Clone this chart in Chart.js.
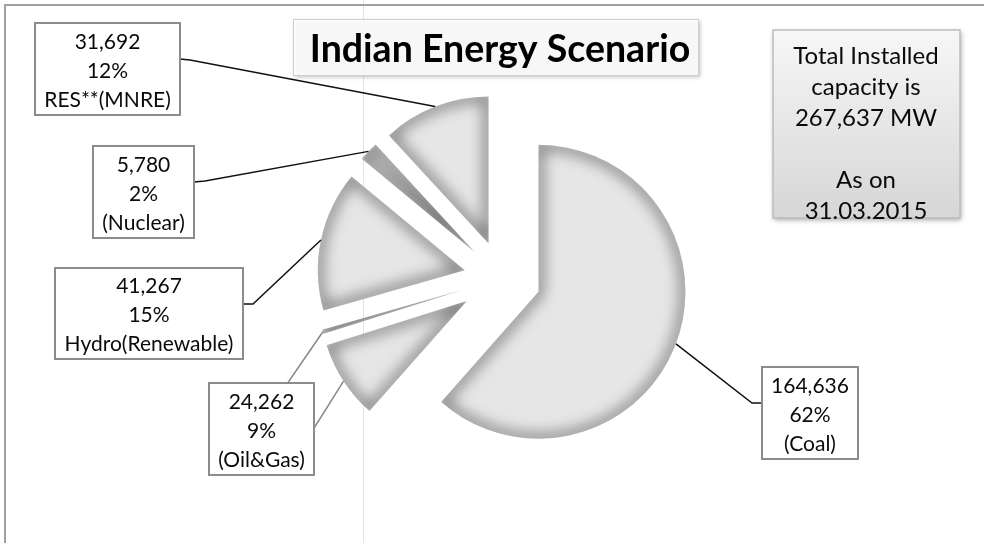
<!DOCTYPE html>
<html>
<head>
<meta charset="utf-8">
<title>Indian Energy Scenario</title>
<script src="https://cdn.jsdelivr.net/npm/chart.js@4"></script>
<style>
    html, body { margin: 0; padding: 0; background: #fff; }
</style>
</head>
<body>
<canvas id="energyChart" width="984" height="543"></canvas>
<script>
// Installed capacity in MW, as on 31.03.2015.
// The thin sliver next to Oil&Gas is the oil part; its box shows gas + oil together.
const sources = ['Coal', 'Gas', 'Oil', 'Hydro(Renewable)', 'Nuclear', 'RES**(MNRE)'];
const capacityMW = [164636, 23062, 1200, 41267, 5780, 31692];

// label boxes: which slices each one adds up and the name printed under it
const boxNames = ['(Coal)', '(Oil&Gas)', 'Hydro(Renewable)', '(Nuclear)', 'RES**(MNRE)'];
const boxSlices = [[0], [1, 2], [3], [4], [5]];

const chartTitle = 'Indian Energy Scenario';
const noteLines = ['Total Installed', 'capacity is', '267,637 MW', '', 'As on', '31.03.2015'];

// --- styling / layout (not data) ---
const explode = [39, 42, 40, 38, 37, 37];
const boxRects = [
    [762, 367, 96, 92],
    [209, 383, 105, 92],
    [55, 268, 188, 91],
    [93, 146, 101, 92],
    [35, 23, 145, 92]
];
// leader lines: slice they point at, start on the box, optional elbow, colour
const leaders = [
    { slice: 0, from: [762, 403], elbow: [752, 403], color: '#111' },
    { slice: 1, from: [311, 433], elbow: null, color: '#8a8a8a' },
    { slice: 2, from: [287, 384], elbow: null, color: '#8a8a8a' },
    { slice: 3, from: [243, 304], elbow: [253, 304], color: '#111' },
    { slice: 4, from: [194, 182], elbow: [205, 181], color: '#111' },
    { slice: 5, from: [180, 59], elbow: [190, 60], color: '#111' }
];

const total = capacityMW.reduce((a, b) => a + b, 0);

function slicePath(ctx, p) {
    ctx.beginPath();
    ctx.moveTo(p.x, p.y);
    ctx.arc(p.x, p.y, p.outerRadius, p.startAngle, p.endAngle);
    ctx.closePath();
}

function arcGeom(arc, i) {
    const p = arc.getProps(['x', 'y', 'startAngle', 'endAngle', 'outerRadius']);
    const mid = (p.startAngle + p.endAngle) / 2;
    return {
        p: p,
        mid: mid,
        dx: Math.cos(mid) * explode[i],
        dy: Math.sin(mid) * explode[i]
    };
}

// draws the slices pulled apart, with a soft dark inner edge
const explodedPie = {
    id: 'explodedPie',
    beforeDatasetDraw(chart, args) {
        const ctx = chart.ctx;
        args.meta.data.forEach((arc, i) => {
            const g = arcGeom(arc, i);
            ctx.save();
            ctx.translate(g.dx, g.dy);
            arc.draw(ctx);
            slicePath(ctx, g.p);
            ctx.clip();
            ctx.shadowColor = 'rgba(0,0,0,0.75)';
            ctx.shadowBlur = 15;
            ctx.shadowOffsetX = 3000;
            ctx.translate(-3000, 0);
            slicePath(ctx, g.p);
            ctx.lineWidth = 6;
            ctx.strokeStyle = '#000';
            ctx.stroke();
            ctx.restore();
        });
        return false;
    }
};

function drawLines(ctx, lines, cx, y0, step) {
    lines.forEach((t, k) => ctx.fillText(t, cx, y0 + k * step));
}

const decorations = {
    id: 'decorations',
    beforeDraw(chart) {
        const ctx = chart.ctx;
        ctx.save();
        ctx.fillStyle = '#fff';
        ctx.fillRect(0, 0, chart.width, chart.height);
        // faint vertical rule
        ctx.strokeStyle = '#e4e4e4';
        ctx.lineWidth = 1;
        ctx.beginPath();
        ctx.moveTo(363.5, 0);
        ctx.lineTo(363.5, chart.height);
        ctx.stroke();
        // frame
        ctx.strokeStyle = '#a0a0a0';
        ctx.lineWidth = 2;
        ctx.beginPath();
        ctx.moveTo(5, chart.height);
        ctx.lineTo(5, 5);
        ctx.lineTo(chart.width, 5);
        ctx.stroke();
        ctx.restore();
    },
    afterDraw(chart) {
        const ctx = chart.ctx;
        const arcs = chart.getDatasetMeta(0).data;
        ctx.save();

        // leader lines from the boxes to the middle of each slice's rim
        leaders.forEach(l => {
            const g = arcGeom(arcs[l.slice], l.slice);
            const tx = g.p.x + g.dx + Math.cos(g.mid) * g.p.outerRadius;
            const ty = g.p.y + g.dy + Math.sin(g.mid) * g.p.outerRadius;
            ctx.strokeStyle = l.color;
            ctx.lineWidth = 1.5;
            ctx.beginPath();
            ctx.moveTo(l.from[0], l.from[1]);
            if (l.elbow) ctx.lineTo(l.elbow[0], l.elbow[1]);
            ctx.lineTo(tx, ty);
            ctx.stroke();
        });

        // data label boxes
        ctx.font = '21px Lato';
        ctx.textAlign = 'center';
        ctx.textBaseline = 'middle';
        boxNames.forEach((name, b) => {
            const [x, y, w, h] = boxRects[b];
            const v = boxSlices[b].reduce((s, i) => s + capacityMW[i], 0);
            ctx.fillStyle = '#fff';
            ctx.fillRect(x, y, w, h);
            ctx.strokeStyle = '#8c8c8c';
            ctx.lineWidth = 2;
            ctx.strokeRect(x, y, w, h);
            ctx.fillStyle = '#0a0a0a';
            const lines = [v.toLocaleString('en-US'), Math.round(v / total * 100) + '%', name];
            drawLines(ctx, lines, x + w / 2, y + h / 2 - 27, 29);
        });

        // title box
        ctx.save();
        ctx.shadowColor = 'rgba(0,0,0,0.3)';
        ctx.shadowBlur = 4;
        ctx.shadowOffsetX = 2;
        ctx.shadowOffsetY = 2;
        ctx.fillStyle = 'rgba(255,255,255,0.88)';
        ctx.fillRect(293, 19, 405, 56);
        ctx.restore();
        ctx.strokeStyle = '#cfcfcf';
        ctx.lineWidth = 1;
        ctx.strokeRect(293.5, 19.5, 405, 56);
        ctx.fillStyle = '#000';
        ctx.font = 'bold 37.5px Lato';
        ctx.fillText(chartTitle, 500, 50);

        // note box with total capacity
        ctx.save();
        ctx.shadowColor = 'rgba(0,0,0,0.35)';
        ctx.shadowBlur = 5;
        ctx.shadowOffsetX = 1;
        ctx.shadowOffsetY = 2;
        const grad = ctx.createLinearGradient(0, 30, 0, 218);
        grad.addColorStop(0, '#f7f7f7');
        grad.addColorStop(1, '#d6d6d6');
        ctx.fillStyle = grad;
        ctx.fillRect(773, 30, 187, 188);
        ctx.restore();
        ctx.strokeStyle = '#bdbdbd';
        ctx.lineWidth = 1.5;
        ctx.strokeRect(773, 30, 187, 188);
        ctx.fillStyle = '#0a0a0a';
        ctx.font = '24px Lato';
        drawLines(ctx, noteLines, 866, 56, 31);

        ctx.restore();
    }
};

const ctx = document.getElementById('energyChart').getContext('2d');
new Chart(ctx, {
    type: 'pie',
    data: {
        labels: sources,
        datasets: [{
            data: capacityMW,
            backgroundColor: '#e6e6e6',
            borderWidth: 0,
            hoverOffset: 0
        }]
    },
    options: {
        responsive: false,
        animation: false,
        events: [],
        layout: { padding: { left: 355, right: 335, top: 131, bottom: 118 } },
        plugins: {
            legend: { display: false },
            tooltip: { enabled: false }
        }
    },
    plugins: [explodedPie, decorations]
});
</script>
</body>
</html>
